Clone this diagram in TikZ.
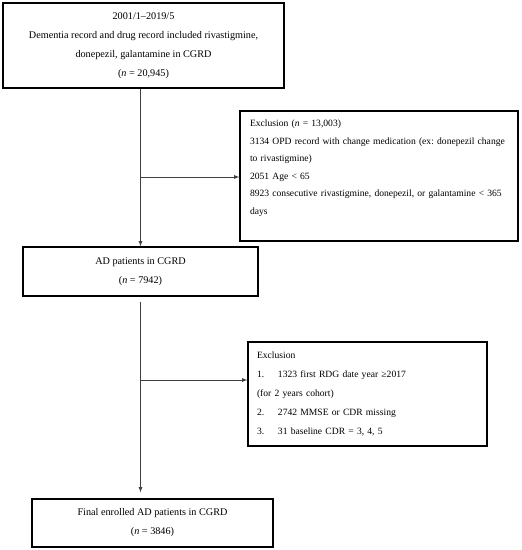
\documentclass[tikz,border=0pt]{standalone}
\usepackage{fontspec}
\setmainfont{Liberation Serif}
\usetikzlibrary{arrows,shapes,backgrounds}
\frenchspacing

\begin{document}
\begin{tikzpicture}[x=1pt,y=1pt,
    box/.style={draw=black,line width=1.3pt,inner sep=0pt,align=center,
      font=\fontsize{10.2}{19}\selectfont},
    exbox/.style={draw=black,line width=1.3pt,inner ysep=0pt,align=left},
    flow/.style={draw=black!75,line width=0.8pt,-latex}]

      \useasboundingbox (0,0) rectangle (522,-550);

      % dementia cohort
      \node[box,minimum width=281pt,minimum height=85pt] (cohort) at (143.5,-45.5)
        {2001/1--2019/5\\Dementia record and drug record included rivastigmine,\\
         donepezil, galantamine in CGRD\\(\textit{n} = 20,945)};

      % first exclusion
      \node[exbox,inner xsep=10pt,text width=258pt,minimum height=130pt,
        font=\fontsize{9.6}{17.5}\selectfont] (excl1) at (379,-176)
        {Exclusion (\textit{n} = 13,003)\\
         3134 OPD record with change medication (ex: donepezil change\\
         to rivastigmine)\\
         2051 Age < 65\\
         8923 consecutive rivastigmine, donepezil, or galantamine < 365\\
         days\\ \mbox{}};

      % AD patients
      \node[box,minimum width=235pt,minimum height=49pt] (adpat) at (140.5,-271.5)
        {AD patients in CGRD\\(\textit{n} = 7942)};

      % second exclusion
      \node[exbox,inner xsep=9pt,text width=221pt,minimum height=104pt,
        font=\fontsize{9.6}{19}\selectfont] (excl2) at (367.5,-394)
        {Exclusion\\
         \makebox[21pt][l]{1.}1323 first RDG date year ≥2017\\
         (for 2 years cohort)\\
         \makebox[21pt][l]{2.}2742 MMSE or CDR missing\\
         \makebox[21pt][l]{3.}31 baseline CDR = 3, 4, 5};

      % final cohort
      \node[box,minimum width=241pt,minimum height=48pt] (final) at (152.5,-523)
        {Final enrolled AD patients in CGRD\\(\textit{n} = 3846)};

      % main flow
      \coordinate (split1) at (140.5,-177);
      \coordinate (split2) at (140.5,-380);
      \draw[flow] (cohort.south -| adpat.north) -- (adpat.north);
      \draw[flow,shorten <=5pt,shorten >=6pt] (adpat.south) -- (adpat.south |- final.north);

      % exclusions
      \draw[flow] (split1) -- (split1 -| excl1.west);
      \draw[flow] (split2) -- (split2 -| excl2.west);

\end{tikzpicture}
\end{document}
